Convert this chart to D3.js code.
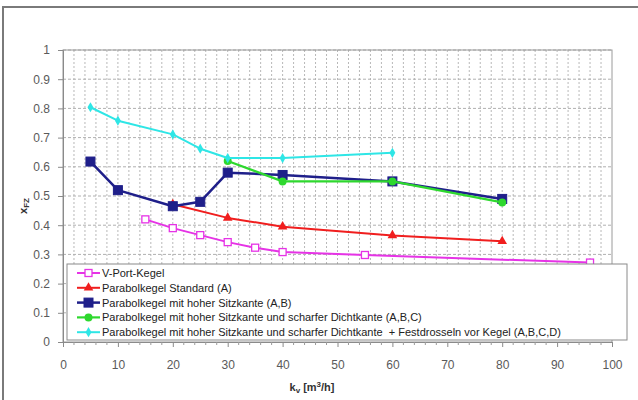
<!DOCTYPE html>
<html>
<head>
<meta charset="utf-8">
<script src="https://cdn.jsdelivr.net/npm/d3@7"></script>
<style>
  html, body { margin: 0; padding: 0; background: #fff; }
  svg { display: block; font-family: "Liberation Sans", Arial, sans-serif; }
</style>
</head>
<body>
<svg id="chart" width="638" height="400"></svg>
<script>
// kv values [m³/h] and cavitation coefficients per plug type
const vportKv   = [15, 20, 25, 30, 35, 40, 55, 96];
const vportX    = [0.42, 0.39, 0.366, 0.342, 0.323, 0.308, 0.298, 0.272];
const stdKv     = [20, 30, 40, 60, 80];
const stdX      = [0.472, 0.425, 0.395, 0.365, 0.345];
const sitzKv    = [5, 10, 20, 25, 30, 40, 60, 80];
const sitzX     = [0.618, 0.52, 0.465, 0.48, 0.58, 0.572, 0.55, 0.49];
const dichtKv   = [30, 40, 60, 80];
const dichtX    = [0.62, 0.55, 0.55, 0.478];
const drosselKv = [5, 10, 20, 25, 30, 40, 60];
const drosselX  = [0.804, 0.758, 0.711, 0.662, 0.63, 0.63, 0.648];

const seriesNames = [
  "V-Port-Kegel",
  "Parabolkegel Standard (A)",
  "Parabolkegel mit hoher Sitzkante (A,B)",
  "Parabolkegel mit hoher Sitzkante und scharfer Dichtkante (A,B,C)",
  "Parabolkegel mit hoher Sitzkante und scharfer Dichtkante  + Festdrosseln vor Kegel (A,B,C,D)"
];
const xTicks = [0, 10, 20, 30, 40, 50, 60, 70, 80, 90, 100];
const yTicks = [0, 0.1, 0.2, 0.3, 0.4, 0.5, 0.6, 0.7, 0.8, 0.9, 1];

const series = [
  { name: seriesNames[0], kv: vportKv,   v: vportX,   color: "#e633e6", marker: "openSquare", width: 2 },
  { name: seriesNames[1], kv: stdKv,     v: stdX,     color: "#f01e1e", marker: "triangle",   width: 2 },
  { name: seriesNames[2], kv: sitzKv,    v: sitzX,    color: "#1f1f8a", marker: "square",     width: 2.5 },
  { name: seriesNames[3], kv: dichtKv,   v: dichtX,   color: "#2ed82e", marker: "circle",     width: 2.2 },
  { name: seriesNames[4], kv: drosselKv, v: drosselX, color: "#2ee6e6", marker: "diamond",    width: 2 }
];

const svg = d3.select("#chart");
const pLeft = 63, pRight = 612, pTop = 50, pBottom = 342;
const x = d3.scaleLinear().domain([0, 100]).range([pLeft, pRight]);
const y = d3.scaleLinear().domain([0, 1]).range([pBottom, pTop]);

// outer frame
svg.append("path")
  .attr("d", `M3,400 L3,7 L638,7`)
  .attr("fill", "none").attr("stroke", "#7a7a7a").attr("stroke-width", 2);

// grid
const grid = svg.append("g");
grid.selectAll("line.v").data(d3.range(2, 100, 2)).join("line")
  .attr("x1", d => x(d)).attr("x2", d => x(d))
  .attr("y1", pTop).attr("y2", pBottom)
  .attr("stroke", "#b8b8b8").attr("stroke-width", 1).attr("stroke-dasharray", "2,2");
grid.selectAll("line.h").data(yTicks.slice(1)).join("line")
  .attr("x1", pLeft).attr("x2", pRight)
  .attr("y1", d => y(d)).attr("y2", d => y(d))
  .attr("stroke", "#b0b0b0").attr("stroke-width", 1).attr("stroke-dasharray", "3,2");

// plot border
svg.append("rect")
  .attr("x", pLeft).attr("y", pTop).attr("width", pRight - pLeft).attr("height", pBottom - pTop)
  .attr("fill", "none").attr("stroke", "#9a9a9a").attr("stroke-width", 1);

// axes
const xAxis = svg.append("g").attr("transform", `translate(0,${pBottom})`)
  .call(d3.axisBottom(x).tickValues(xTicks).tickSize(5).tickPadding(13).tickFormat(d3.format("d")));
const yAxis = svg.append("g").attr("transform", `translate(${pLeft},0)`)
  .call(d3.axisLeft(y).tickValues(yTicks).tickSize(5).tickPadding(8).tickFormat(d => d === 0 || d === 1 ? String(d) : d.toFixed(1)));
[xAxis, yAxis].forEach(g => {
  g.select(".domain").attr("stroke", "#8a8a8a");
  g.selectAll(".tick line").attr("stroke", "#8a8a8a");
  g.selectAll(".tick text").attr("fill", "#5a5a5a").attr("font-size", 12)
    .attr("font-family", "Liberation Sans, Arial, sans-serif");
});
// minor x ticks
svg.append("g").selectAll("line").data(d3.range(2, 100, 2).filter(d => d % 10)).join("line")
  .attr("x1", d => x(d)).attr("x2", d => x(d))
  .attr("y1", pBottom).attr("y2", pBottom + 3)
  .attr("stroke", "#9a9a9a");

// axis titles
const xt = svg.append("text").attr("x", 312).attr("y", 391)
  .attr("text-anchor", "middle").attr("font-size", 11).attr("font-weight", "bold").attr("fill", "#333");
xt.append("tspan").text("k");
xt.append("tspan").attr("font-size", 8).attr("dy", 2).text("v");
xt.append("tspan").attr("dy", -2).text(" [m");
xt.append("tspan").attr("font-size", 8).attr("dy", -4).text("3");
xt.append("tspan").attr("dy", 4).text("/h]");

const yt = svg.append("text").attr("transform", "translate(27,206) rotate(-90)")
  .attr("text-anchor", "middle").attr("font-size", 11).attr("font-weight", "bold").attr("fill", "#333");
yt.append("tspan").text("x");
yt.append("tspan").attr("font-size", 8).attr("dy", 2).text("FZ");

// marker drawing
function drawMarker(g, type, color, cx, cy) {
  if (type === "openSquare") {
    g.append("rect").attr("x", cx - 3.5).attr("y", cy - 3.5).attr("width", 7).attr("height", 7)
      .attr("fill", "#fff").attr("stroke", color).attr("stroke-width", 1.3);
  } else if (type === "square") {
    g.append("rect").attr("x", cx - 4.5).attr("y", cy - 4.5).attr("width", 9).attr("height", 9)
      .attr("fill", color).attr("stroke", color);
  } else {
    const sym = type === "triangle" ? d3.symbolTriangle : type === "circle" ? d3.symbolCircle : d3.symbolDiamond;
    const size = type === "triangle" ? 40 : type === "circle" ? 50 : 30;
    g.append("path").attr("d", d3.symbol().type(sym).size(size)())
      .attr("transform", `translate(${cx},${cy})`).attr("fill", color);
  }
}

// series lines and markers
const line = d3.line().x(d => x(d[0])).y(d => y(d[1]));
series.forEach(s => {
  const pts = s.kv.map((k, i) => [k, s.v[i]]);
  const g = svg.append("g");
  g.append("path").datum(pts).attr("d", line)
    .attr("fill", "none").attr("stroke", s.color).attr("stroke-width", s.width).attr("stroke-linejoin", "round");
  pts.forEach(p => drawMarker(g, s.marker, s.color, x(p[0]), y(p[1])));
});

// legend
const lg = svg.append("g");
lg.append("rect").attr("x", 67).attr("y", 264).attr("width", 560).attr("height", 76)
  .attr("fill", "#fff").attr("stroke", "#8a8a8a").attr("stroke-width", 1);
series.forEach((s, i) => {
  const ly = 273 + i * 14.8;
  lg.append("line").attr("x1", 77).attr("x2", 100).attr("y1", ly).attr("y2", ly)
    .attr("stroke", s.color).attr("stroke-width", s.width);
  drawMarker(lg, s.marker, s.color, 88.5, ly);
  lg.append("text").attr("x", 102).attr("y", ly + 4).attr("font-size", 11)
    .style("white-space", "pre")
    .attr("fill", "#222").text(s.name);
});
</script>
</body>
</html>
